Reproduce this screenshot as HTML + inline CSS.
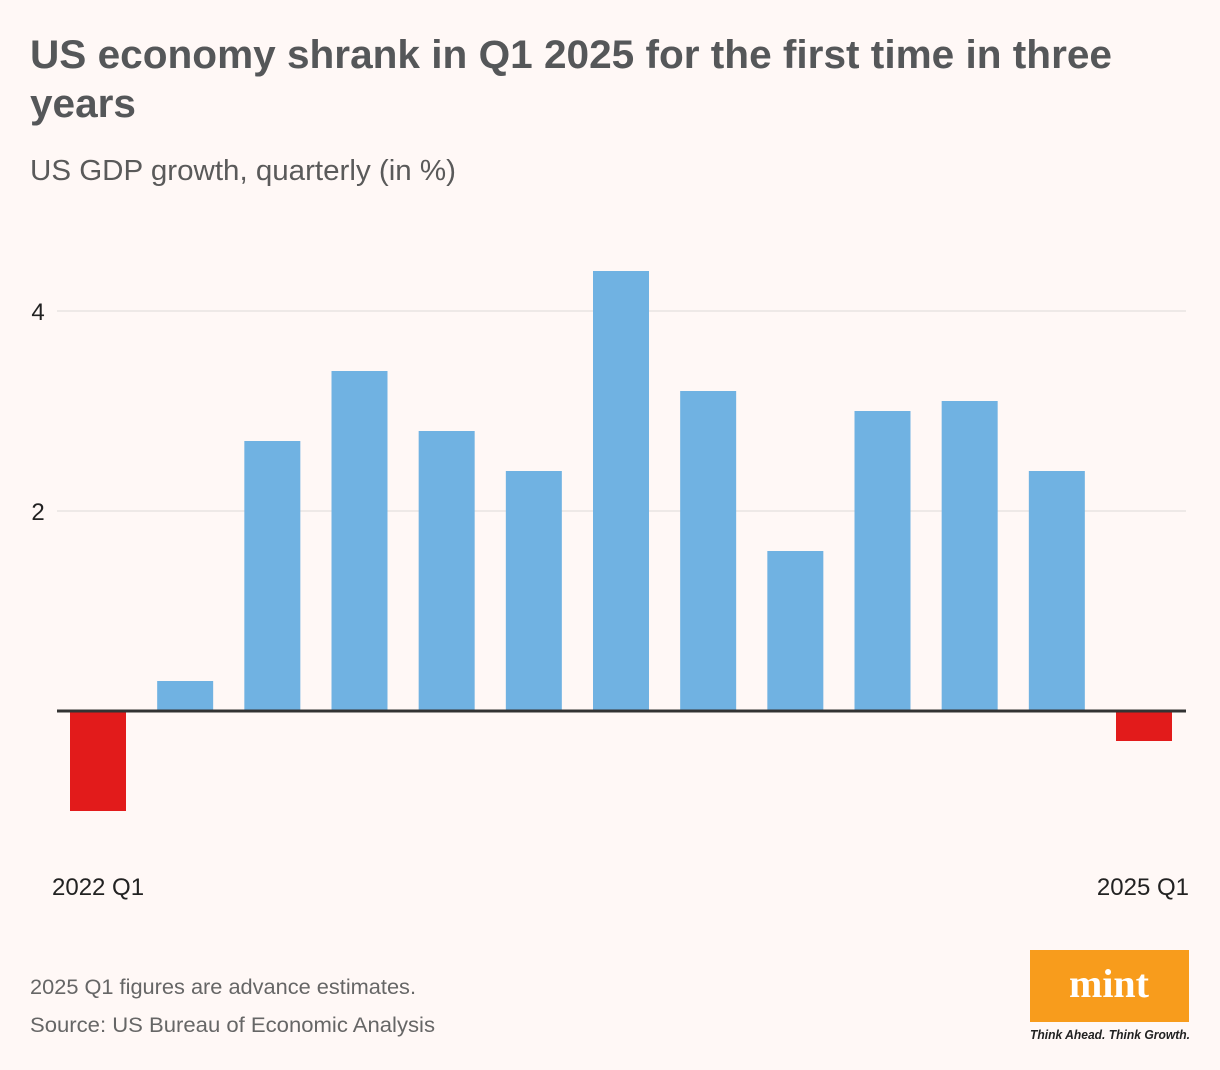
<!DOCTYPE html>
<html><head><meta charset="utf-8"><style>
html,body{margin:0;padding:0;background:#fff8f6;}
svg{display:block;font-family:"Liberation Sans",sans-serif;}
</style></head><body>
<svg width="1220" height="1070" viewBox="0 0 1220 1070">
<rect x="0" y="0" width="1220" height="1070" fill="#fff8f6"/>
<text x="30" y="68" font-size="40" font-weight="bold" fill="#555759" textLength="1082" lengthAdjust="spacingAndGlyphs">US economy shrank in Q1 2025 for the first time in three</text>
<text x="30" y="117" font-size="40" font-weight="bold" fill="#555759" textLength="106" lengthAdjust="spacingAndGlyphs">years</text>
<text x="30" y="180" font-size="29" fill="#5a5a5a" textLength="426" lengthAdjust="spacingAndGlyphs">US GDP growth, quarterly (in %)</text>
<g id="grid"></g>
<g id="bars"></g>
<line x1="57" x2="1186" y1="711" y2="711" stroke="#333" stroke-width="3"/>
<text x="52" y="895" font-size="24" fill="#222">2022 Q1</text>
<text x="1189" y="895" font-size="24" fill="#222" text-anchor="end">2025 Q1</text>
<text x="30" y="994" font-size="21" fill="#666" textLength="386" lengthAdjust="spacingAndGlyphs">2025 Q1 figures are advance estimates.</text>
<text x="30" y="1032" font-size="21" fill="#666" textLength="405" lengthAdjust="spacingAndGlyphs">Source: US Bureau of Economic Analysis</text>
<g>
<rect x="1030" y="950" width="159" height="72" fill="#f89c1c"/>
<text x="1109" y="997" font-size="40" font-weight="bold" font-family="Liberation Serif,serif" fill="#fff" text-anchor="middle">mint</text>
<text x="1030" y="1039" font-size="12.5" font-style="italic" font-weight="bold" fill="#222" textLength="160" lengthAdjust="spacingAndGlyphs">Think Ahead. Think Growth.</text>
</g>
</svg>
<script>
const categories=["2022 Q1","2022 Q2","2022 Q3","2022 Q4","2023 Q1","2023 Q2","2023 Q3","2023 Q4","2024 Q1","2024 Q2","2024 Q3","2024 Q4","2025 Q1"];
const values=[-1.0,0.3,2.7,3.4,2.8,2.4,4.4,3.2,1.6,3.0,3.1,2.4,-0.3];
const yTicks=[2,4];
const NS="http://www.w3.org/2000/svg";
function yScale(v){return 711-v*100;}
function xScale(i){return 70+i*(1116-70)/(categories.length-1);}
const grid=document.getElementById('grid');
yTicks.forEach(t=>{
  const l=document.createElementNS(NS,'line');
  l.setAttribute('x1',57);l.setAttribute('x2',1186);
  l.setAttribute('y1',yScale(t));l.setAttribute('y2',yScale(t));
  l.setAttribute('stroke','#dddad8');l.setAttribute('stroke-width','1');
  
  
  grid.appendChild(l);
  const tx=document.createElementNS(NS,'text');
  tx.setAttribute('x',38);tx.setAttribute('y',yScale(t)+9);
  tx.setAttribute('font-size','24');tx.setAttribute('fill','#222');
  tx.setAttribute('text-anchor','middle');
  tx.textContent=t;
  
  
  grid.appendChild(tx);
});
const bars=document.getElementById('bars');
values.forEach((v,i)=>{
  const r=document.createElementNS(NS,'rect');
  const y0=yScale(0),y1=yScale(v);
  r.setAttribute('x',xScale(i));r.setAttribute('width',56);
  r.setAttribute('y',Math.min(y0,y1));r.setAttribute('height',Math.abs(y1-y0));
  r.setAttribute('fill',v<0?'#e21b1b':'#70b2e2');
  
  
  bars.appendChild(r);
});
</script>
</body></html>
